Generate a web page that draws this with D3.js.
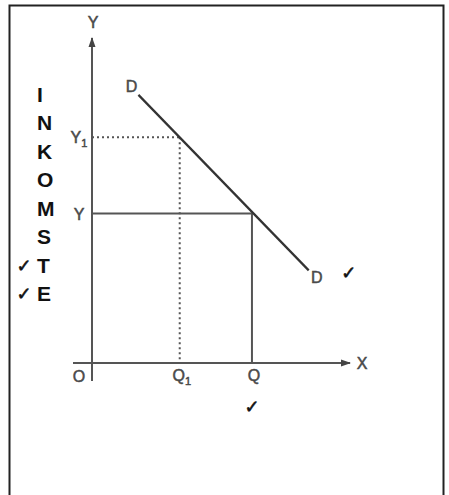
<!DOCTYPE html>
<html>
<head>
<meta charset="utf-8">
<script src="https://cdn.jsdelivr.net/npm/d3@7"></script>
<style>
  body { margin: 0; background: #fff; }
  svg { display: block; }
  .lbl { font-family: "Liberation Sans", Arial, sans-serif; font-size: 16px; fill: #4a4a4a; stroke: #4a4a4a; stroke-width: 0.5px; }
  .word { font-family: "Liberation Sans", Arial, sans-serif; font-size: 21px; font-weight: bold; fill: #111; }
  .tick { font-family: "DejaVu Sans", sans-serif; font-size: 18px; fill: #111; stroke: #111; stroke-width: 0.6px; }
</style>
</head>
<body>
<div id="chart"></div>
<script>
// demand curve D (two end points, in chart units)
var demandX = [18, 84];
var demandY = [82.5, 28.5];

// the two price / quantity levels
var levelNames = ["Y1", "Y"];
var priceLevels = [69.5, 46];
var qtyNames = ["Q1", "Q"];
var qtyLevels = [34, 62];

// vertical word at the left
var word = ["I", "N", "K", "O", "M", "S", "T", "E"];
var checkedLetters = ["T", "E"];

var width = 449;
var height = 495;

var svg = d3.select("#chart").append("svg")
  .attr("width", width)
  .attr("height", height);

// frame
svg.append("rect")
  .attr("x", 9.5)
  .attr("y", 5.5)
  .attr("width", 434)
  .attr("height", 500)
  .attr("fill", "none")
  .attr("stroke", "#222")
  .attr("stroke-width", 2);

var x = d3.scaleLinear().domain([0, 100]).range([92, 350]);
var y = d3.scaleLinear().domain([0, 100]).range([363, 38]);

var defs = svg.append("defs");
defs.append("marker")
  .attr("id", "arrow")
  .attr("viewBox", "0 0 10 10")
  .attr("refX", 9)
  .attr("refY", 5)
  .attr("markerWidth", 10)
  .attr("markerHeight", 10)
  .attr("markerUnits", "userSpaceOnUse")
  .attr("orient", "auto")
  .append("path")
  .attr("d", "M0,1.5 L10,5 L0,8.5 Z")
  .attr("fill", "#444");

var axisColor = "#555";

// x axis
svg.append("line")
  .attr("x1", x(0) - 19).attr("y1", y(0))
  .attr("x2", x(100)).attr("y2", y(0))
  .attr("stroke", axisColor).attr("stroke-width", 2)
  .attr("marker-end", "url(#arrow)");

// y axis
svg.append("line")
  .attr("x1", x(0)).attr("y1", y(0) + 18)
  .attr("x2", x(0)).attr("y2", y(100))
  .attr("stroke", axisColor).attr("stroke-width", 2)
  .attr("marker-end", "url(#arrow)");

// guide lines: first level dotted, second solid
priceLevels.forEach(function(p, i) {
  var q = qtyLevels[i];
  var g = svg.append("g")
    .attr("stroke", "#555")
    .attr("stroke-width", 2)
    .attr("stroke-dasharray", i === 0 ? "2,3" : null);
  g.append("line")
    .attr("x1", x(0)).attr("y1", y(p))
    .attr("x2", x(q)).attr("y2", y(p));
  g.append("line")
    .attr("x1", x(q)).attr("y1", y(p))
    .attr("x2", x(q)).attr("y2", y(0));
});

// demand line
svg.append("line")
  .attr("x1", x(demandX[0])).attr("y1", y(demandY[0]))
  .attr("x2", x(demandX[1])).attr("y2", y(demandY[1]))
  .attr("stroke", "#333")
  .attr("stroke-width", 2.2);

// labels with optional subscript
function label(txt, px, py) {
  var t = svg.append("text")
    .attr("class", "lbl")
    .attr("x", px)
    .attr("y", py)
    .attr("text-anchor", "middle");
  t.append("tspan").text(txt[0]);
  if (txt.length > 1) {
    t.append("tspan")
      .attr("dy", 4)
      .style("font-size", "11px")
      .text(txt.slice(1));
  }
  return t;
}

label("Y", x(0) + 1, y(100) - 10);
label("X", x(100) + 12, y(0) + 6);
label("O", x(0) - 13, y(0) + 19);
label("D", x(demandX[0]) - 7, y(demandY[0]) - 3);
label("D", x(demandX[1]) + 8, y(demandY[1]) + 13);

levelNames.forEach(function(n, i) {
  label(n, x(0) - 13, y(priceLevels[i]) + 6);
});
qtyNames.forEach(function(n, i) {
  label(n, x(qtyLevels[i]) + 2, y(0) + 18);
});

// vertical word
var letterY = d3.scalePoint()
  .domain(d3.range(word.length))
  .range([102, 301]);

svg.selectAll(".word")
  .data(word)
  .enter().append("text")
  .attr("class", "word")
  .attr("x", 37)
  .attr("y", function(d, i) { return letterY(i); })
  .text(function(d) { return d; });

// check marks
var checks = [];
word.forEach(function(d, i) {
  if (checkedLetters.indexOf(d) >= 0) checks.push([24, letterY(i) - 1]);
});
checks.push([x(demandX[1]) + 40, y(demandY[1]) + 9]);
checks.push([x(qtyLevels[1]), y(0) + 50]);

svg.selectAll(".tick")
  .data(checks)
  .enter().append("text")
  .attr("class", "tick")
  .attr("x", function(d) { return d[0]; })
  .attr("y", function(d) { return d[1]; })
  .attr("text-anchor", "middle")
  .text("\u2713");
</script>
</body>
</html>
